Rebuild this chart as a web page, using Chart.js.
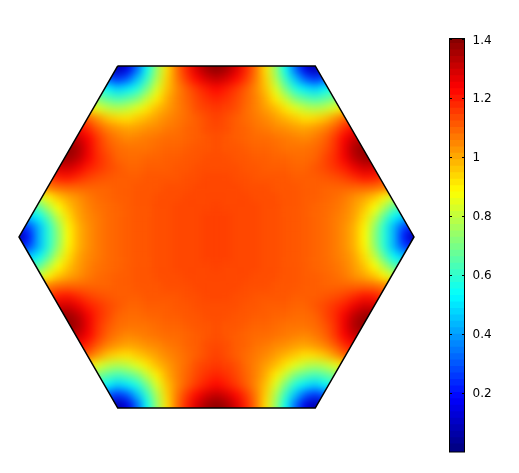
<!DOCTYPE html>
<html>
<head>
<meta charset="utf-8">
<script src="https://cdn.jsdelivr.net/npm/chart.js@4"></script>
<style>
html, body { margin: 0; background: #fff; overflow: hidden; }
#hex { position: absolute; left: 0; top: 0; }
#bar { position: absolute; left: 449px; top: 0; }
</style>
</head>
<body>
<canvas id="hex" width="433" height="473"></canvas>
<canvas id="bar" width="70" height="473"></canvas>
<script>
// field values, one row per grid line from top to bottom, each row centred on x = 0
const gridStep = 0.05;
const gridTop = 0.9;
const heatRows = [
[.12,.12,.06,.14,.32,.54,.74,.92,1.07,1.18,1.28,1.35,1.38,1.35,1.28,1.18,1.07,.92,.74,.54,.32,.14,.06,.12,.12],
[.12,.12,.06,.14,.32,.54,.74,.92,1.07,1.18,1.28,1.35,1.38,1.35,1.28,1.18,1.07,.92,.74,.54,.32,.14,.06,.12,.12],
[.34,.34,.3,.24,.3,.44,.6,.77,.94,1.06,1.15,1.22,1.28,1.31,1.28,1.22,1.15,1.06,.94,.77,.6,.44,.3,.24,.3,.34,.34],
[.6,.58,.52,.46,.5,.57,.69,.83,.96,1.04,1.1,1.15,1.19,1.22,1.19,1.15,1.1,1.04,.96,.83,.69,.57,.5,.46,.52,.58,.6],
[.78,.7,.65,.62,.65,.7,.8,.9,.99,1.05,1.09,1.13,1.16,1.18,1.16,1.13,1.09,1.05,.99,.9,.8,.7,.65,.62,.65,.7,.78],
[.92,.91,.84,.79,.77,.79,.84,.91,.97,1.01,1.05,1.08,1.12,1.14,1.15,1.14,1.12,1.08,1.05,1.01,.97,.91,.84,.79,.77,.79,.84,.91,.92],
[1.12,1.09,1.02,.96,.93,.92,.95,.98,1.01,1.04,1.06,1.08,1.1,1.12,1.14,1.12,1.1,1.08,1.06,1.04,1.01,.98,.95,.92,.93,.96,1.02,1.09,1.12],
[1.23,1.22,1.17,1.1,1.05,1.02,1,1.01,1.03,1.04,1.06,1.07,1.09,1.1,1.12,1.13,1.12,1.1,1.09,1.07,1.06,1.04,1.03,1.01,1,1.02,1.05,1.1,1.17,1.22,1.23],
[1.31,1.3,1.23,1.15,1.09,1.06,1.04,1.05,1.06,1.07,1.08,1.08,1.09,1.1,1.11,1.12,1.11,1.1,1.09,1.08,1.08,1.07,1.06,1.05,1.04,1.06,1.09,1.15,1.23,1.3,1.31],
[1.38,1.38,1.34,1.25,1.16,1.11,1.08,1.07,1.07,1.07,1.08,1.09,1.09,1.1,1.11,1.11,1.12,1.11,1.11,1.1,1.09,1.09,1.08,1.07,1.07,1.07,1.08,1.11,1.16,1.25,1.34,1.38,1.38],
[1.37,1.37,1.36,1.32,1.24,1.17,1.13,1.09,1.08,1.08,1.09,1.09,1.1,1.1,1.11,1.11,1.12,1.12,1.12,1.11,1.11,1.1,1.1,1.09,1.09,1.08,1.08,1.09,1.13,1.17,1.24,1.32,1.36,1.37,1.37],
[1.28,1.28,1.29,1.25,1.19,1.16,1.13,1.11,1.09,1.09,1.1,1.1,1.1,1.11,1.11,1.12,1.12,1.12,1.12,1.12,1.11,1.11,1.1,1.1,1.1,1.09,1.09,1.11,1.13,1.16,1.19,1.25,1.29,1.28,1.28],
[1.14,1.14,1.19,1.2,1.17,1.14,1.12,1.11,1.1,1.1,1.1,1.11,1.11,1.11,1.11,1.12,1.12,1.13,1.13,1.13,1.12,1.12,1.11,1.11,1.11,1.11,1.1,1.1,1.1,1.11,1.12,1.14,1.17,1.2,1.19,1.14,1.14],
[1,1,1.06,1.08,1.09,1.09,1.09,1.09,1.09,1.1,1.1,1.11,1.11,1.11,1.12,1.12,1.12,1.13,1.13,1.13,1.13,1.13,1.12,1.12,1.12,1.11,1.11,1.11,1.1,1.1,1.09,1.09,1.09,1.09,1.09,1.08,1.06,1,1],
[.8,.8,.89,.96,1,1.03,1.06,1.08,1.09,1.1,1.1,1.11,1.11,1.12,1.12,1.12,1.13,1.13,1.13,1.13,1.13,1.13,1.13,1.12,1.12,1.12,1.11,1.11,1.1,1.1,1.09,1.08,1.06,1.03,1,.96,.89,.8,.8],
[.58,.6,.65,.77,.88,.96,1.01,1.05,1.07,1.08,1.09,1.1,1.11,1.11,1.12,1.12,1.13,1.13,1.13,1.13,1.14,1.13,1.13,1.13,1.13,1.12,1.12,1.11,1.11,1.1,1.09,1.08,1.07,1.05,1.01,.96,.88,.77,.65,.6,.58],
[.42,.45,.52,.65,.8,.92,1,1.04,1.06,1.08,1.09,1.1,1.11,1.11,1.12,1.12,1.13,1.13,1.13,1.14,1.14,1.14,1.13,1.13,1.13,1.12,1.12,1.11,1.11,1.1,1.09,1.08,1.06,1.04,1,.92,.8,.65,.52,.45,.42],
[.2,.2,.27,.42,.58,.74,.89,.98,1.03,1.06,1.08,1.09,1.1,1.11,1.11,1.12,1.12,1.13,1.13,1.13,1.14,1.14,1.14,1.13,1.13,1.13,1.12,1.12,1.11,1.11,1.1,1.09,1.08,1.06,1.03,.98,.89,.74,.58,.42,.27,.2,.2],
[.05,.05,.2,.42,.58,.72,.88,.98,1.03,1.06,1.08,1.09,1.1,1.11,1.11,1.12,1.12,1.13,1.13,1.13,1.14,1.14,1.14,1.13,1.13,1.13,1.12,1.12,1.11,1.11,1.1,1.09,1.08,1.06,1.03,.98,.88,.72,.58,.42,.2,.05,.05],
[.2,.2,.27,.42,.58,.74,.89,.98,1.03,1.06,1.08,1.09,1.1,1.11,1.11,1.12,1.12,1.13,1.13,1.13,1.14,1.14,1.14,1.13,1.13,1.13,1.12,1.12,1.11,1.11,1.1,1.09,1.08,1.06,1.03,.98,.89,.74,.58,.42,.27,.2,.2],
[.42,.45,.52,.65,.8,.92,1,1.04,1.06,1.08,1.09,1.1,1.11,1.11,1.12,1.12,1.13,1.13,1.13,1.14,1.14,1.14,1.13,1.13,1.13,1.12,1.12,1.11,1.11,1.1,1.09,1.08,1.06,1.04,1,.92,.8,.65,.52,.45,.42],
[.58,.6,.65,.77,.88,.96,1.01,1.05,1.07,1.08,1.09,1.1,1.11,1.11,1.12,1.12,1.13,1.13,1.13,1.13,1.14,1.13,1.13,1.13,1.13,1.12,1.12,1.11,1.11,1.1,1.09,1.08,1.07,1.05,1.01,.96,.88,.77,.65,.6,.58],
[.8,.8,.89,.96,1,1.03,1.06,1.08,1.09,1.1,1.1,1.11,1.11,1.12,1.12,1.12,1.13,1.13,1.13,1.13,1.13,1.13,1.13,1.12,1.12,1.12,1.11,1.11,1.1,1.1,1.09,1.08,1.06,1.03,1,.96,.89,.8,.8],
[1,1,1.06,1.08,1.09,1.09,1.09,1.09,1.09,1.1,1.1,1.11,1.11,1.11,1.12,1.12,1.12,1.13,1.13,1.13,1.13,1.13,1.12,1.12,1.12,1.11,1.11,1.11,1.1,1.1,1.09,1.09,1.09,1.09,1.09,1.08,1.06,1,1],
[1.14,1.14,1.19,1.2,1.17,1.14,1.12,1.11,1.1,1.1,1.1,1.11,1.11,1.11,1.11,1.12,1.12,1.13,1.13,1.13,1.12,1.12,1.11,1.11,1.11,1.11,1.1,1.1,1.1,1.11,1.12,1.14,1.17,1.2,1.19,1.14,1.14],
[1.28,1.28,1.29,1.25,1.19,1.16,1.13,1.11,1.09,1.09,1.1,1.1,1.1,1.11,1.11,1.12,1.12,1.12,1.12,1.12,1.11,1.11,1.1,1.1,1.1,1.09,1.09,1.11,1.13,1.16,1.19,1.25,1.29,1.28,1.28],
[1.37,1.37,1.36,1.32,1.24,1.17,1.13,1.09,1.08,1.08,1.09,1.09,1.1,1.1,1.11,1.11,1.12,1.12,1.12,1.11,1.11,1.1,1.1,1.09,1.09,1.08,1.08,1.09,1.13,1.17,1.24,1.32,1.36,1.37,1.37],
[1.38,1.38,1.34,1.25,1.16,1.11,1.08,1.07,1.07,1.07,1.08,1.09,1.09,1.1,1.11,1.11,1.12,1.11,1.11,1.1,1.09,1.09,1.08,1.07,1.07,1.07,1.08,1.11,1.16,1.25,1.34,1.38,1.38],
[1.31,1.3,1.23,1.15,1.09,1.06,1.04,1.05,1.06,1.07,1.08,1.08,1.09,1.1,1.11,1.12,1.11,1.1,1.09,1.08,1.08,1.07,1.06,1.05,1.04,1.06,1.09,1.15,1.23,1.3,1.31],
[1.23,1.22,1.17,1.1,1.05,1.02,1,1.01,1.03,1.04,1.06,1.07,1.09,1.1,1.12,1.13,1.12,1.1,1.09,1.07,1.06,1.04,1.03,1.01,1,1.02,1.05,1.1,1.17,1.22,1.23],
[1.12,1.09,1.02,.96,.93,.92,.95,.98,1.01,1.04,1.06,1.08,1.1,1.12,1.14,1.12,1.1,1.08,1.06,1.04,1.01,.98,.95,.92,.93,.96,1.02,1.09,1.12],
[.92,.91,.84,.79,.77,.79,.84,.91,.97,1.01,1.05,1.08,1.12,1.14,1.15,1.14,1.12,1.08,1.05,1.01,.97,.91,.84,.79,.77,.79,.84,.91,.92],
[.78,.7,.65,.62,.65,.7,.8,.9,.99,1.05,1.09,1.13,1.16,1.18,1.16,1.13,1.09,1.05,.99,.9,.8,.7,.65,.62,.65,.7,.78],
[.6,.58,.52,.46,.5,.57,.69,.83,.96,1.04,1.1,1.15,1.19,1.22,1.19,1.15,1.1,1.04,.96,.83,.69,.57,.5,.46,.52,.58,.6],
[.34,.34,.3,.24,.3,.44,.6,.77,.94,1.06,1.15,1.22,1.28,1.31,1.28,1.22,1.15,1.06,.94,.77,.6,.44,.3,.24,.3,.34,.34],
[.12,.12,.06,.14,.32,.54,.74,.92,1.07,1.18,1.28,1.35,1.38,1.35,1.28,1.18,1.07,.92,.74,.54,.32,.14,.06,.12,.12],
[.12,.12,.06,.14,.32,.54,.74,.92,1.07,1.18,1.28,1.35,1.38,1.35,1.28,1.18,1.07,.92,.74,.54,.32,.14,.06,.12,.12]
];
const hexX = [-0.5, 0.5, 1, 0.5, -0.5, -1, -0.5];
const hexY = [0.866, 0.866, 0, -0.866, -0.866, 0, 0.866];
const colorTicks = [0.2, 0.4, 0.6, 0.8, 1, 1.2, 1.4];
const colorMin = 0;
const colorMax = 1.403;
const colorLevels = 64;

const clamp = (v) => Math.max(0, Math.min(1, v));
function jet(v) {
    const t = (v - colorMin) / (colorMax - colorMin);
    const r = clamp(1.5 - Math.abs(4 * t - 3));
    const g = clamp(1.5 - Math.abs(4 * t - 2));
    const b = clamp(1.5 - Math.abs(4 * t - 1));
    return `rgb(${Math.round(r * 255)}, ${Math.round(g * 255)}, ${Math.round(b * 255)})`;
}

const heatPoints = [];
heatRows.forEach((row, j) => {
    row.forEach((value, i) => {
        heatPoints.push({
            x: (i - (row.length - 1) / 2) * gridStep,
            y: gridTop - j * gridStep,
            v: value
        });
    });
});

// smooths the blocks and trims them to the hexagon
const hexTrim = {
    id: 'hexTrim',
    afterDatasetDraw(chart, args) {
        if (args.index !== 1) return;
        const { ctx, canvas, scales } = chart;
        ctx.save();
        ctx.filter = 'blur(4px)';
        ctx.drawImage(canvas, 0, 0);
        ctx.filter = 'none';
        ctx.globalCompositeOperation = 'destination-in';
        ctx.beginPath();
        hexX.forEach((x, i) => {
            ctx.lineTo(scales.x.getPixelForValue(x), scales.y.getPixelForValue(hexY[i]));
        });
        ctx.closePath();
        ctx.fill();
        ctx.restore();
    }
};

new Chart(document.getElementById('hex'), {
    type: 'scatter',
    data: {
        datasets: [{
            data: hexX.map((x, i) => ({ x, y: hexY[i] })),
            showLine: true,
            borderColor: '#000',
            borderWidth: 1.5,
            pointRadius: 0,
            clip: false
        }, {
            data: heatPoints,
            pointStyle: 'rect',
            pointRadius: 7.3,
            borderWidth: 0,
            pointBorderWidth: 0,
            backgroundColor: heatPoints.map((p) => jet(p.v))
        }]
    },
    options: {
        responsive: false,
        animation: false,
        layout: { padding: 0, autoPadding: false },
        plugins: { legend: { display: false }, tooltip: { enabled: false } },
        scales: {
            x: { display: false, min: -1.0962, max: 1.0962 },
            y: { display: false, min: -1.195, max: 1.2 }
        }
    },
    plugins: [hexTrim]
});

// frame and short inner ticks of the colour bar
const barFrame = {
    id: 'barFrame',
    afterDraw(chart) {
        const { ctx, chartArea: a, scales } = chart;
        ctx.save();
        ctx.strokeStyle = '#000';
        ctx.lineWidth = 1;
        ctx.strokeRect(a.left, a.top, a.right - a.left, a.bottom - a.top);
        colorTicks.forEach((t) => {
            const y = Math.round(scales.y.getPixelForValue(t)) + 0.5;
            ctx.beginPath();
            ctx.moveTo(a.left, y);
            ctx.lineTo(a.left + 2.5, y);
            ctx.moveTo(a.right - 2.5, y);
            ctx.lineTo(a.right, y);
            ctx.stroke();
        });
        ctx.restore();
    }
};

const levelSpan = (colorMax - colorMin) / colorLevels;
const levels = Array.from({ length: colorLevels }, (_, i) => colorMin + i * levelSpan);

new Chart(document.getElementById('bar'), {
    type: 'bar',
    data: {
        labels: [''],
        datasets: levels.map((lo) => ({
            data: [[lo, lo + levelSpan * 1.25]],
            backgroundColor: jet(lo + levelSpan / 2),
            borderWidth: 0,
            barPercentage: 1,
            categoryPercentage: 1,
            grouped: false
        }))
    },
    options: {
        responsive: false,
        animation: false,
        layout: { padding: { left: 0.5, top: 38.5, bottom: 21 } },
        plugins: { legend: { display: false }, tooltip: { enabled: false } },
        scales: {
            x: { display: false },
            y: {
                position: 'right',
                min: colorMin,
                max: colorMax,
                grid: { display: false },
                border: { display: false },
                afterBuildTicks(scale) {
                    scale.ticks = colorTicks.map((value) => ({ value }));
                },
                afterFit(scale) {
                    scale.width = 54.5;
                },
                ticks: {
                    color: '#000',
                    padding: 0,
                    labelOffset: 1,
                    font: { family: 'DejaVu Sans', size: 12 },
                    callback: (v) => String(v)
                }
            }
        }
    },
    plugins: [barFrame]
});
</script>
</body>
</html>
